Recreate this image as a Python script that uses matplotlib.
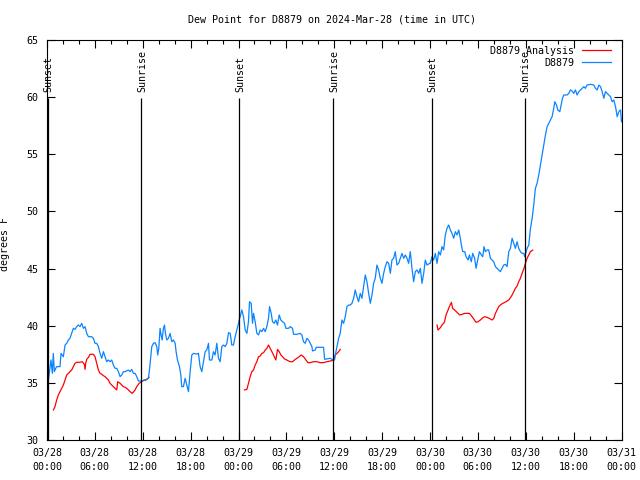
import matplotlib
matplotlib.use('Agg')
import numpy as np
import matplotlib.pyplot as plt
from matplotlib.ticker import MultipleLocator

# hours since 2024-03-28 00:00 UTC
blue_hours = [
    0.17, 0.50, 0.67, 0.79, 0.92, 1.09, 1.21, 1.63, 1.76, 2.05, 2.26, 2.47, 2.68, 2.88, 3.09,
    3.30, 3.51, 3.72, 3.93, 4.14, 4.35, 4.56, 4.77, 4.98, 5.19, 5.60, 5.81, 6.02, 6.23, 6.44,
    6.65, 6.86, 7.07, 7.28, 7.48, 7.69, 7.90, 8.11, 8.32, 8.53, 8.74, 8.95, 9.16, 9.37, 9.57,
    9.78, 10.20, 10.41, 10.62, 10.83, 11.04, 11.25, 11.46, 11.87, 12.17,
    12.29, 12.71, 12.84, 13.00, 13.13, 13.34, 13.55, 13.76, 13.88, 14.01, 14.17, 14.30, 14.43,
    14.59, 14.72, 14.84, 15.01, 15.22, 15.43, 15.64, 15.85, 16.06, 16.18, 16.35, 16.60, 16.77,
    16.89, 17.10, 17.31, 17.52, 17.73, 17.94, 18.15, 18.36, 18.77, 18.98, 19.19, 19.40, 19.61,
    19.82, 20.03, 20.24, 20.36, 20.66, 20.86, 21.07, 21.28, 21.49, 21.70, 21.91, 22.12, 22.33,
    22.54, 22.75, 22.96, 23.16, 23.37, 23.58, 23.79, 24.00, 24.13,
    24.21, 24.42, 24.63, 24.84, 25.05, 25.25, 25.38, 25.59, 25.76, 25.88, 26.09, 26.30, 26.51,
    26.72, 26.93, 27.14, 27.35, 27.55, 27.76, 27.89, 28.10, 28.26, 28.47, 28.68, 28.89, 29.10,
    29.31, 29.52, 29.77, 29.94, 30.27, 30.48, 30.77, 30.90, 31.32, 31.73, 31.94, 32.15, 32.36,
    32.57, 32.78, 32.99, 33.20, 33.28, 33.62, 33.74, 34.66, 34.79, 35.50, 35.71, 36.04,
    36.13, 36.34, 36.55, 36.75, 36.96, 37.17, 37.38, 37.59, 37.80, 38.01, 38.22, 38.43, 38.63,
    38.84, 39.05, 39.26, 39.47, 39.68, 39.89, 40.10, 40.31, 40.52, 40.73, 40.93, 41.14, 41.35,
    41.56, 41.77, 41.98, 42.19, 42.40, 42.61, 42.82, 43.03, 43.23, 43.44, 43.65, 43.86, 44.07,
    44.28, 44.49, 44.70, 44.91, 45.12, 45.32, 45.53, 45.74, 45.95, 46.16, 46.37, 46.58, 46.79,
    47.00, 47.21, 47.41, 47.62, 47.96,
    48.04, 48.25, 48.46, 48.67, 48.88, 49.09, 49.30, 49.51, 49.71, 49.92, 50.13, 50.34, 50.55,
    50.76, 50.97, 51.18, 51.39, 51.60, 51.80, 51.93, 52.10, 52.35, 52.52, 52.77, 52.93, 53.18,
    53.35, 53.60, 53.77, 54.02, 54.19, 54.44, 54.61, 54.77, 54.94, 55.15, 55.36, 55.57, 55.78,
    55.99, 56.20, 56.40, 56.61, 56.82, 57.03, 57.24, 57.45, 57.66, 57.87, 58.08, 58.29, 58.50,
    58.70, 58.91, 59.12, 59.33, 59.54, 59.75, 59.87, 60.17, 60.38,
    60.59, 60.80, 61.00, 61.21, 61.42, 61.63, 61.84, 62.05, 62.26, 62.47, 62.68, 62.89, 63.10,
    63.30, 63.51, 63.64, 63.85, 64.02, 64.27, 64.43, 64.60, 64.77, 65.19, 65.39, 65.60, 65.81,
    66.02, 66.23, 66.44, 66.65, 66.86, 67.07, 67.28, 67.48, 67.69, 68.11, 68.53, 68.74, 68.95,
    69.16, 69.37, 69.58, 69.79, 69.99, 70.20, 70.41, 70.62, 70.83, 71.04, 71.25, 71.46, 71.67,
    71.88, 72.00,
]
blue_dewpt = [
    35.25, 37.00, 35.83, 37.58, 35.98, 36.27, 36.42, 36.42, 37.58, 37.29, 38.31, 38.46, 38.75, 38.90, 39.33,
    39.77, 39.68, 39.92, 40.06, 39.92, 40.21, 39.77, 39.92, 39.33, 39.04, 39.04, 38.90, 38.46, 38.46, 38.17,
    37.58, 37.15, 37.73, 37.29, 36.85, 37.00, 36.85, 37.00, 36.56, 36.27, 36.27, 35.98, 35.54, 35.69, 35.98,
    35.98, 36.12, 35.98, 36.18, 35.83, 35.83, 35.54, 35.16, 35.16, 35.25,
    35.19, 35.40, 36.12, 37.29, 38.17, 38.46, 38.52, 38.17, 37.44, 38.02, 39.77, 39.19, 38.75,
    39.77, 40.06, 39.33, 38.75, 38.90, 39.33, 38.60, 38.75, 38.46, 37.73, 37.00, 36.42, 35.69,
    34.67, 34.67, 35.40, 34.81, 34.23, 35.98, 37.44, 37.58, 37.52, 37.58, 36.42, 35.98, 36.85,
    37.73, 37.88, 38.46, 37.00, 37.00, 37.73, 37.44, 38.46, 37.15, 36.85, 38.17, 38.31, 38.17,
    38.46, 39.39, 39.33, 38.31, 38.31, 39.04, 39.63, 40.21, 40.65,
    40.79, 41.38, 40.79, 39.63, 39.33, 40.35, 42.10, 41.96, 40.21, 41.08, 40.35, 39.33, 39.19,
    39.63, 39.48, 39.77, 39.48, 39.92, 40.65, 41.67, 41.08, 40.35, 40.21, 40.50, 40.06, 40.94,
    40.50, 40.35, 40.21, 39.77, 39.77, 39.92, 39.77, 39.25, 39.25, 39.33, 39.19, 38.60, 38.46,
    38.90, 38.75, 38.46, 38.17, 37.79, 37.88, 38.11, 38.11, 37.06, 37.15, 37.06, 37.00,
    37.44, 38.17, 38.90, 39.33, 40.50, 40.21, 40.79, 41.67, 41.81, 41.81, 41.96, 42.40, 43.13,
    42.54, 42.10, 42.83, 42.40, 43.42, 44.44, 43.85, 42.83, 41.96, 42.69, 43.71, 44.15, 45.31,
    44.88, 44.15, 43.71, 44.58, 45.17, 45.60, 45.46, 44.58, 45.75, 45.90, 46.48, 45.31, 45.46,
    45.90, 46.33, 45.90, 46.19, 45.90, 45.46, 46.48, 45.02, 43.85, 44.73, 44.88, 44.58, 45.02,
    43.71, 44.58, 45.75, 45.31, 45.46,
    45.46, 46.04, 45.75, 46.33, 45.46, 46.48, 46.19, 46.92, 46.63, 47.94, 48.52, 48.81, 48.38,
    48.08, 47.65, 48.23, 47.94, 48.38, 47.65, 47.06, 46.48, 46.48, 46.04, 45.75, 46.19, 45.60,
    46.33, 45.90, 45.02, 45.90, 46.48, 46.19, 46.04, 46.92, 46.48, 46.63, 46.63, 45.90, 45.75,
    45.60, 45.17, 45.02, 44.88, 44.73, 45.02, 45.31, 45.37, 45.17, 46.48, 46.77, 47.65, 47.21,
    46.77, 47.35, 46.77, 46.48, 46.33, 46.33, 46.04, 46.77, 47.06,
    48.52, 49.40, 50.56, 52.02, 52.46, 53.19, 54.06, 54.94, 55.81, 56.69, 57.42, 57.71, 58.00,
    58.29, 59.02, 59.60, 59.31, 58.88, 58.73, 59.31, 59.90, 60.19, 60.19, 60.33, 60.63, 60.54,
    60.33, 60.63, 60.19, 60.48, 60.63, 60.77, 60.92, 60.77, 61.06, 61.12, 61.06, 60.77, 60.63,
    61.06, 60.92, 60.48, 59.90, 60.48, 60.33, 60.19, 60.04, 59.60, 59.75, 59.17, 58.29, 58.73,
    58.88, 57.85,
]

# analysis runs (three separate pieces)
ana1_hours = [
    0.80, 1.00, 1.21, 1.42, 1.63, 1.84, 2.05, 2.26, 2.47, 2.68, 2.88, 3.09, 3.30, 3.51, 3.72,
    4.14, 4.43, 4.68, 4.77, 4.85, 4.98, 5.19, 5.39, 5.81, 6.02, 6.23, 6.44, 6.65, 6.86, 7.07,
    7.28, 7.48, 7.69, 7.90, 8.11, 8.32, 8.53, 8.74, 8.86, 9.16, 9.37, 9.57, 9.78, 9.99, 10.20,
    10.41, 10.70, 11.04, 11.25, 11.54, 11.87, 12.21, 12.50, 12.79,
]
ana1_dewpt = [
    32.63, 32.92, 33.50, 33.94, 34.23, 34.52, 34.81, 35.25, 35.69, 35.83, 35.98, 36.12, 36.42, 36.71, 36.80,
    36.80, 36.85, 36.62, 36.18, 36.71, 37.06, 37.23, 37.50, 37.50, 37.29, 36.71, 36.12, 35.83, 35.75, 35.63,
    35.54, 35.40, 35.25, 34.96, 34.81, 34.67, 34.52, 34.38, 35.10, 34.96, 34.81, 34.67, 34.61, 34.52, 34.38,
    34.23, 34.08, 34.38, 34.67, 34.96, 35.10, 35.25, 35.31, 35.48,
]
ana2_hours = [
    24.75, 25.05, 25.25, 25.46, 25.67, 25.88, 26.09, 26.30, 26.51, 26.72, 26.93, 27.14, 27.35,
    27.55, 27.76, 27.97, 28.18, 28.39, 28.68, 28.89, 29.10, 29.31, 29.52, 29.77, 30.06, 30.27,
    30.48, 30.77, 31.02, 31.32, 31.61, 31.86, 32.15, 32.45, 32.70, 32.99, 33.41, 33.83, 34.24,
    34.66, 35.08, 35.50, 35.92, 36.13, 36.34, 36.55, 36.75,
]
ana2_dewpt = [
    34.38, 34.43, 34.96, 35.54, 35.98, 36.12, 36.56, 36.85, 37.29, 37.35, 37.58, 37.64, 37.88,
    38.02, 38.31, 38.02, 37.73, 37.44, 37.00, 37.93, 37.73, 37.44, 37.29, 37.09, 37.00, 36.91,
    36.85, 36.85, 37.00, 37.15, 37.29, 37.44, 37.29, 37.00, 36.77, 36.77, 36.85, 36.85, 36.77,
    36.77, 36.85, 36.91, 37.00, 37.44, 37.58, 37.73, 37.93,
]
ana3_hours = [
    48.88, 49.00, 49.30, 49.51, 49.80, 50.01, 50.26, 50.43, 50.68, 50.84, 51.09, 51.39, 51.72,
    52.01, 52.35, 52.93, 53.18, 53.48, 53.77, 54.02, 54.31, 54.61, 54.86, 55.15, 55.44, 55.78,
    55.99, 56.20, 56.40, 56.61, 56.82, 57.12, 57.37, 57.66, 57.87, 58.08, 58.29, 58.50, 58.70,
    58.91, 59.12, 59.33, 59.54, 59.75, 59.96, 60.17, 60.38, 60.59, 60.88,
]
ana3_dewpt = [
    40.06, 39.62, 39.83, 40.06, 40.30, 40.94, 41.37, 41.67, 42.04, 41.52, 41.37, 41.17, 40.94,
    40.99, 41.08, 41.08, 40.88, 40.59, 40.30, 40.35, 40.50, 40.70, 40.79, 40.73, 40.64, 40.50,
    40.64, 41.08, 41.37, 41.67, 41.81, 41.96, 42.04, 42.16, 42.25, 42.45, 42.69, 42.98, 43.27,
    43.47, 43.85, 44.15, 44.58, 44.96, 45.46, 45.90, 46.19, 46.48, 46.62,
]

sun_hours = [0.1, 11.83, 24.1, 35.9, 48.2, 59.85]
sun_labels = ['Sunset', 'Sunrise', 'Sunset', 'Sunrise', 'Sunset', 'Sunrise']

tick_hours = [0, 6, 12, 18, 24, 30, 36, 42, 48, 54, 60, 66, 72]
tick_labels = ['03/28\n00:00', '03/28\n06:00', '03/28\n12:00', '03/28\n18:00',
               '03/29\n00:00', '03/29\n06:00', '03/29\n12:00', '03/29\n18:00',
               '03/30\n00:00', '03/30\n06:00', '03/30\n12:00', '03/30\n18:00',
               '03/31\n00:00']

plt.rcParams['font.family'] = ['DejaVu Sans Mono']
fs = 7.2

fig = plt.figure(figsize=(6.4, 4.8), dpi=100)
ax = fig.add_axes([47 / 640, 40 / 480, 574.5 / 640, 400 / 480])

red = '#ff0000'
blue = '#0a84ff'
l1, = ax.plot(ana1_hours, ana1_dewpt, color=red, lw=0.9)
ax.plot(ana2_hours, ana2_dewpt, color=red, lw=0.9)
ax.plot(ana3_hours, ana3_dewpt, color=red, lw=0.9)
l2, = ax.plot(blue_hours, blue_dewpt, color=blue, lw=0.9)

for h, lab in zip(sun_hours, sun_labels):
    ax.vlines(h, 30, 59.9, color='black', lw=0.9)
    ax.text(h + 0.1, 60.45, lab, rotation=90, ha='center', va='bottom', fontsize=fs)

ax.set_xlim(0, 72)
ax.set_ylim(30, 65)
ax.set_xticks(tick_hours)
ax.set_xticklabels(tick_labels, linespacing=1.45)
ax.xaxis.set_minor_locator(MultipleLocator(2))
ax.yaxis.set_major_locator(MultipleLocator(5))
ax.tick_params(which='both', direction='in', top=True, right=True, labelsize=fs, width=0.8)
ax.tick_params(which='major', length=5.5)
ax.tick_params(which='minor', length=3)
ax.tick_params(axis='x', pad=6)
ax.tick_params(axis='y', pad=6)
for s in ax.spines.values():
    s.set_linewidth(0.8)

ax.set_ylabel('degrees F', fontsize=fs)
ax.yaxis.set_label_coords(-37 / 574.5, 0.49)

fig.text(332 / 640, 1 - 20 / 480, 'Dew Point for D8879 on 2024-Mar-28 (time in UTC)',
         ha='center', va='center', fontsize=fs)

ax.legend([l1, l2], ['D8879 Analysis', 'D8879'], loc='upper right',
          bbox_to_anchor=(1 - 11 / 574.5, 1 - 6 / 400), frameon=False, markerfirst=False,
          borderaxespad=0, borderpad=0, handlelength=2.9, handletextpad=0.7,
          labelspacing=0.2, fontsize=fs)

fig.savefig('out.png', dpi=100)
